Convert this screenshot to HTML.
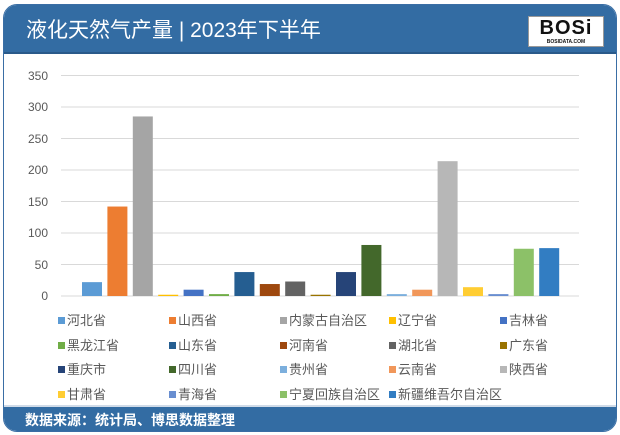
<!DOCTYPE html>
<html><head><meta charset="utf-8"><style>
body{margin:0;width:620px;height:435px;background:#fff;font-family:"Liberation Sans","Noto Sans CJK SC",sans-serif;overflow:hidden}
.frame{position:absolute;left:3px;top:4px;width:612px;height:426px;border:1px solid #3a6ea5;border-radius:14px;overflow:hidden;background:#fff}
.hd{position:absolute;left:0;top:0;width:100%;height:47px;background:#336ca3;border-bottom:2px solid #2a5a8a}
.hd .t{position:absolute;left:22px;top:9px;color:#fff;font-size:21px}
.logo{position:absolute;left:524px;top:11px;width:74px;height:29px;background:#fff;border:1px solid #999;font:900 20px "Liberation Sans",sans-serif;color:#111;text-align:center;line-height:22px;letter-spacing:1px}
.logo small{position:absolute;left:0;right:0;bottom:1px;font-size:5px;line-height:6px;font-weight:bold;letter-spacing:0}
.ft{position:absolute;left:0;bottom:0;width:100%;height:24px;background:#336ca3;border-top:2px solid #d0dbe8}
.ft span{position:absolute;left:21px;top:3px;color:#fff;font-size:14px;font-weight:bold}
.lg{position:absolute;font-size:13px;color:#595959;white-space:nowrap}
.lg i{display:inline-block;width:7px;height:7px;margin-right:2px;vertical-align:1px}
</style></head><body>
<div class="frame">
<div class="hd"><div class="t">液化天然气产量 | 2023年下半年</div><div class="logo">BOSi<small>BOSIDATA.COM</small></div></div>
<div class="ft"><span>数据来源：统计局、博思数据整理</span></div>
</div>
<svg style="position:absolute;left:0;top:0" width="620" height="435">
<g stroke="#d9d9d9" stroke-width="1">
<line x1="61" x2="579" y1="75.5" y2="75.5"/><line x1="61" x2="579" y1="107" y2="107"/><line x1="61" x2="579" y1="138.5" y2="138.5"/><line x1="61" x2="579" y1="170" y2="170"/><line x1="61" x2="579" y1="201.5" y2="201.5"/><line x1="61" x2="579" y1="233" y2="233"/><line x1="61" x2="579" y1="264.5" y2="264.5"/><line x1="61" x2="579" y1="296" y2="296"/>
</g>
<g font-family="Liberation Sans,sans-serif" font-size="12" fill="#595959" text-anchor="end">
<text x="48" y="80">350</text><text x="48" y="111">300</text><text x="48" y="143">250</text><text x="48" y="174">200</text><text x="48" y="206">150</text><text x="48" y="237">100</text><text x="48" y="269">50</text><text x="48" y="300">0</text>
</g>
<g id="bars"></g>
</svg>
<div id="leg"></div>
<script>
var v=[22,142,285,2,10,3,38,19,23,2,38,81,3,10,214,14,3,75,76];
var c=["#5b9bd5","#ed7d31","#a5a5a5","#ffc000","#4472c4","#70ad47","#255e91","#9e480e","#636363","#997300","#264478","#43682b","#7cafdd","#f1975a","#b7b7b7","#ffcd33","#698ed0","#8cc168","#327dc2"];
var n=["河北省","山西省","内蒙古自治区","辽宁省","吉林省","黑龙江省","山东省","河南省","湖北省","广东省","重庆市","四川省","贵州省","云南省","陕西省","甘肃省","青海省","宁夏回族自治区","新疆维吾尔自治区"];
var s="";for(var i=0;i<19;i++){var h=v[i]*0.63;s+='<rect x="'+(82+i*25.4)+'" y="'+(296-h)+'" width="20" height="'+h+'" fill="'+c[i]+'"/>';}
document.getElementById("bars").innerHTML=s;
var cx=[58,169,280,389,500],ry=[310,335,359,384],l="";
for(var i=0;i<19;i++){l+='<div class="lg" style="left:'+cx[i%5]+'px;top:'+ry[Math.floor(i/5)]+'px"><i style="background:'+c[i]+'"></i>'+n[i]+'</div>';}
document.getElementById("leg").innerHTML=l;
</script>
</body></html>
